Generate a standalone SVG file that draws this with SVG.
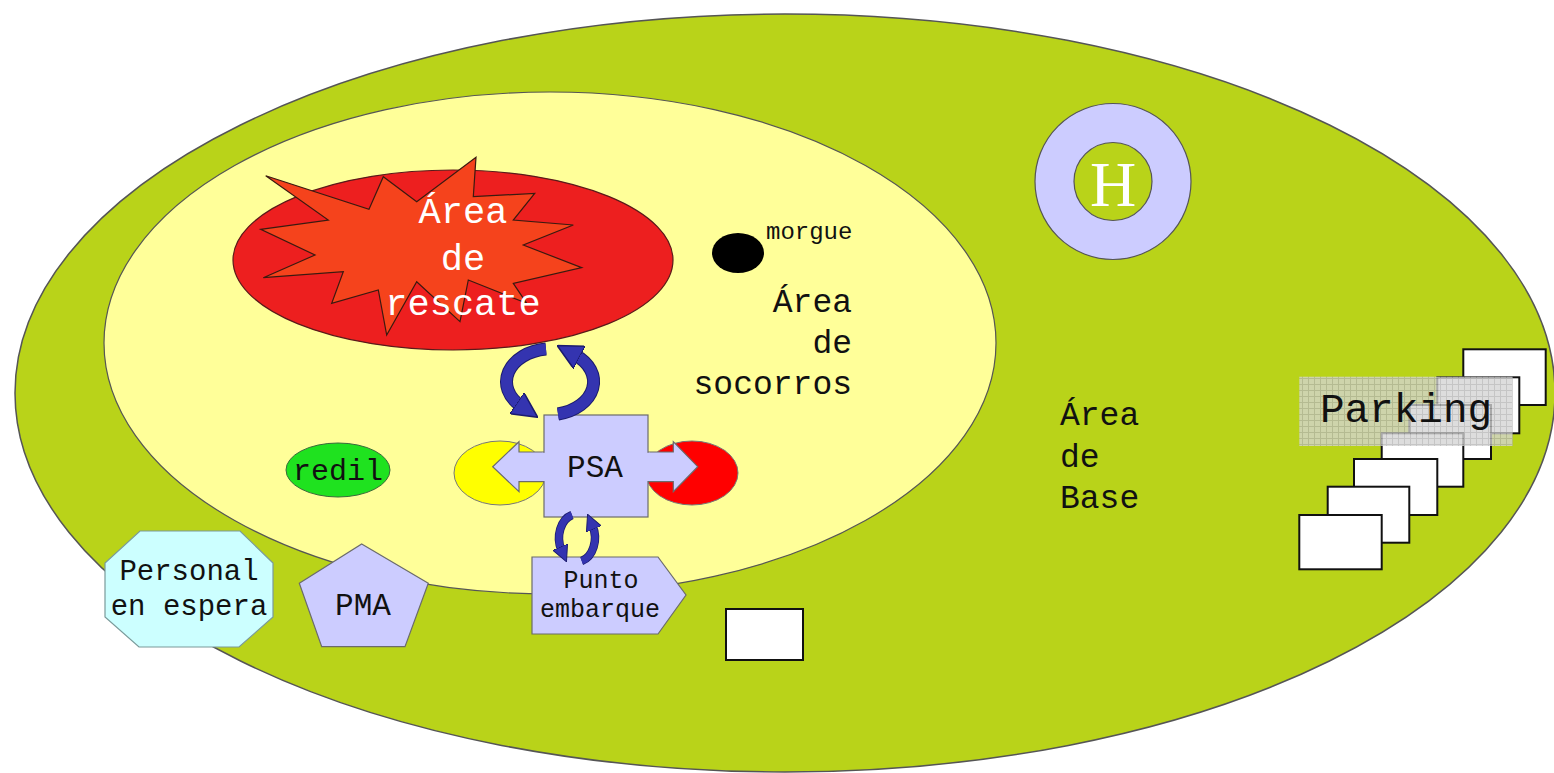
<svg xmlns="http://www.w3.org/2000/svg" width="1554" height="773" viewBox="0 0 1554 773">
<defs>
<style>
.mono{font-family:"Liberation Mono","DejaVu Sans Mono",monospace;}
.lbl{fill:#111;}
.shape{stroke:#6b6b6b;stroke-width:1.2;}
.box{fill:#fff;stroke:#111;stroke-width:2;}
.cyc-under{fill:none;stroke:#1b1b6e;}
.cyc{fill:none;stroke:#3434b0;}
</style>
<marker id="ah" viewBox="0 0 10 10" refX="2" refY="5" markerWidth="2.3" markerHeight="2.3" orient="auto" markerUnits="strokeWidth">
<path d="M0,0 L10,5 L0,10 Z" fill="#3434b0" stroke="#1b1b6e" stroke-width="0.6"/>
</marker>
<pattern id="grid" width="6" height="6" patternUnits="userSpaceOnUse">
<rect width="6" height="6" fill="#d4d4d4"/>
<path d="M0,0.5 H6 M0.5,0 V6" stroke="#b4b4b4" stroke-width="1"/>
</pattern>
</defs>

<g id="area-base">
<ellipse cx="785" cy="393" rx="770" ry="379" fill="#b9d319" stroke="#555" stroke-width="1.5"/>
<text class="mono lbl" font-size="33" x="1060" y="425">Área</text>
<text class="mono lbl" font-size="33" x="1060" y="467">de</text>
<text class="mono lbl" font-size="33" x="1060" y="508">Base</text>
</g>

<g id="area-socorros">
<ellipse cx="550" cy="343" rx="446" ry="251" fill="#ffff99" stroke="#555" stroke-width="1.2"/>
<text class="mono lbl" font-size="33" x="852" y="312" text-anchor="end">Área</text>
<text class="mono lbl" font-size="33" x="852" y="353" text-anchor="end">de</text>
<text class="mono lbl" font-size="33" x="852" y="394" text-anchor="end">socorros</text>
</g>

<g id="area-rescate">
<ellipse cx="453" cy="260" rx="220" ry="90" fill="#ed1f1f" stroke="#5a1a1a" stroke-width="1.2"/>
<polygon points="265.7,175.7 369,209.3 383.3,176.7 416.7,201.7 476,157.3 473.3,196.7 534.7,193.3 513.3,220 573.3,225 523.3,245 581.7,267.7 513.3,283.3 526.7,303.3 468.3,280 460,321.7 416.7,281.7 386.7,335 378.3,290 331.7,303.3 343.3,271.7 263.3,277.7 315,255 260.7,229.3 328.3,220" fill="#f5431c" stroke="#3a1a10" stroke-width="1.2"/>
<text class="mono" font-size="37" fill="#fff" x="463" y="223" text-anchor="middle">Área</text>
<text class="mono" font-size="37" fill="#fff" x="463" y="270" text-anchor="middle">de</text>
<text class="mono" font-size="37" fill="#fff" x="463" y="315" text-anchor="middle">rescate</text>
</g>

<g id="morgue">
<ellipse cx="738" cy="253" rx="26" ry="20" fill="#000"/>
<text class="mono lbl" font-size="24" x="766" y="239">morgue</text>
</g>

<g id="helipuerto">
<circle cx="1113" cy="181.5" r="78" fill="#ccccff" stroke="#555" stroke-width="1.2"/>
<circle cx="1113" cy="181.5" r="39" fill="#b9d319" stroke="#555" stroke-width="1.2"/>
<text font-family="Liberation Serif, serif" font-size="64" fill="#fff" x="1113" y="206" text-anchor="middle">H</text>
</g>

<g id="redil">
<ellipse cx="338" cy="470" rx="52" ry="27" fill="#1fe21f" stroke="#3a6a3a" stroke-width="1"/>
<text class="mono lbl" font-size="30" x="338" y="480" text-anchor="middle">redil</text>
</g>

<g id="psa">
<ellipse cx="500" cy="473" rx="46" ry="32" fill="#ffff00" stroke="#777" stroke-width="1"/>
<ellipse cx="692" cy="473" rx="46" ry="32" fill="#ff0000" stroke="#777" stroke-width="1"/>
<polygon class="shape" fill="#ccccff" points="492.7,466.7 519,441.7 519,452 673.3,452 673.3,441.7 697.7,466.7 673.3,491.7 673.3,481.7 519,481.7 519,491.7"/>
<rect class="shape" fill="#ccccff" x="544" y="415" width="104" height="102"/>
<rect fill="#ccccff" x="542" y="452.8" width="108" height="28.2"/>
<text class="mono lbl" font-size="31" x="595" y="477" text-anchor="middle">PSA</text>
</g>

<g id="punto-embarque">
<polygon class="shape" fill="#ccccff" points="532,557 658,557 686,595 658,634 532,634"/>
<text class="mono lbl" font-size="25" x="601" y="588" text-anchor="middle">Punto</text>
<text class="mono lbl" font-size="25" x="600" y="617" text-anchor="middle">embarque</text>
</g>

<g id="personal-espera">
<polygon fill="#ccffff" stroke="#7a9a9a" stroke-width="1.2" points="140,531 240,531 273,563 273,617 239,647 139,647 105,617 105,563"/>
<text class="mono lbl" font-size="29" x="189" y="580" text-anchor="middle">Personal</text>
<text class="mono lbl" font-size="29" x="189" y="615" text-anchor="middle">en espera</text>
</g>

<g id="pma">
<polygon class="shape" fill="#ccccff" points="361.7,544 428.3,583.3 405,646.7 321.7,646.7 299.3,583.3"/>
<text class="mono lbl" font-size="31" x="363" y="615" text-anchor="middle">PMA</text>
</g>

<g id="vehiculo">
<rect class="box" x="726" y="609" width="77" height="51"/>
</g>

<g id="parking">
<rect class="box" x="1463.3" y="349.3" width="82.4" height="55.7"/>
<rect class="box" x="1437.3" y="377.3" width="82" height="56"/>
<rect class="box" x="1409.3" y="405" width="81.7" height="54"/>
<rect class="box" x="1381.7" y="433.3" width="81.6" height="53.4"/>
<rect class="box" x="1354" y="459" width="83.3" height="56"/>
<rect class="box" x="1327.7" y="486.7" width="81.6" height="56"/>
<rect class="box" x="1299.3" y="515" width="82.4" height="54.3"/>
<rect x="1299.3" y="376.7" width="213.4" height="69.3" fill="url(#grid)" opacity="0.78"/>
<text class="mono lbl" font-size="41" x="1406" y="422" text-anchor="middle">Parking</text>
</g>

<g id="connectors">
<path class="cyc-under" stroke-width="13" d="M546,349 A45,33 0 0,0 521,406"/>
<path class="cyc" stroke-width="11" marker-end="url(#ah)" d="M546,349 A45,33 0 0,0 521,406"/>
<path class="cyc-under" stroke-width="13" d="M558,414 A45,33 0 0,0 575,355"/>
<path class="cyc" stroke-width="11" marker-end="url(#ah)" d="M558,414 A45,33 0 0,0 575,355"/>
<path class="cyc-under" stroke-width="8.5" d="M572,515 A18,24 0 0,0 561.4,550"/>
<path class="cyc" stroke-width="7" marker-end="url(#ah)" d="M572,515 A18,24 0 0,0 561.4,550"/>
<path class="cyc-under" stroke-width="8.5" d="M581.7,561 A18,24 0 0,0 592.6,526"/>
<path class="cyc" stroke-width="7" marker-end="url(#ah)" d="M581.7,561 A18,24 0 0,0 592.6,526"/>
</g>
</svg>
